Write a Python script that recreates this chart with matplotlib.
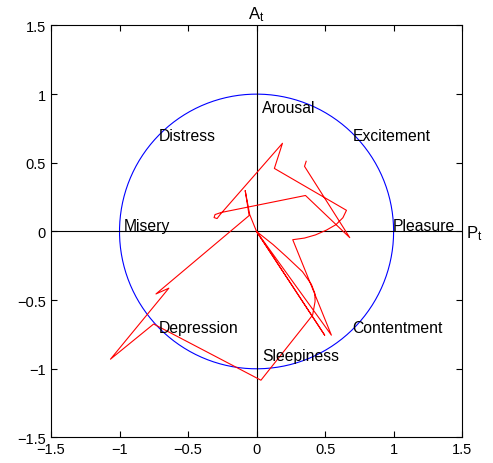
import numpy as np
import matplotlib
matplotlib.use("Agg")
import matplotlib.pyplot as plt

plt.rcParams['font.family'] = ['Liberation Sans', 'DejaVu Sans']
plt.rcParams['mathtext.default'] = 'regular'

# emotion trajectory in the pleasure/arousal plane
traj_x = [0.362, 0.350, 0.680, 0.357, -0.259, -0.303, -0.310, -0.288, -0.266,
          0.189, 0.130, 0.656, 0.630, 0.580, 0.510, 0.430, 0.350, 0.264,
          0.546, 0.0, 0.497, 0.0, 0.120, 0.220, 0.335, 0.400, 0.425, 0.427,
          0.409, 0.032, -0.751, -1.066, -0.640, -0.734, -0.054, -0.083,
          -0.050, 0.0]
traj_y = [0.511, 0.474, -0.045, 0.262, 0.138, 0.123, 0.101, 0.094, 0.123,
          0.642, 0.459, 0.154, 0.100, 0.050, 0.010, -0.025, -0.048, -0.060,
          -0.755, 0.0, -0.755, 0.0, -0.095, -0.185, -0.293, -0.385, -0.450,
          -0.510, -0.609, -1.083, -0.674, -0.930, -0.413, -0.455, 0.116,
          0.298, 0.123, 0.0]

labels = ["Arousal", "Distress", "Excitement", "Misery", "Pleasure",
          "Depression", "Contentment", "Sleepiness"]
label_x = [0.04, -0.71, 0.70, -0.97, 0.995, -0.71, 0.70, 0.04]
label_y = [0.90, 0.70, 0.70, 0.04, 0.04, -0.70, -0.70, -0.90]

ticks = [-1.5, -1, -0.5, 0, 0.5, 1, 1.5]
tick_labels = ["\u22121.5", "\u22121", "\u22120.5", "0", "0.5", "1", "1.5"]

fig = plt.figure(figsize=(4.93, 4.64), dpi=100)
ax = fig.add_axes([0.1034, 0.055, 0.834, 0.888])

t = np.linspace(0, 2 * np.pi, 400)
ax.plot(np.cos(t), np.sin(t), color='blue', lw=0.8)
ax.plot([-1.5, 1.5], [0, 0], color='black', lw=0.8)
ax.plot([0, 0], [-1.5, 1.5], color='black', lw=0.8)
ax.plot(traj_x, traj_y, color='red', lw=0.8)

for s, x, y in zip(labels, label_x, label_y):
    ax.text(x, y, s, fontsize=11.3, ha='left', va='center')

ax.text(0, 1.515, 'A$_{t}$', fontsize=12, ha='center', va='bottom')
ax.text(1.53, -0.01, 'P$_{t}$', fontsize=12, ha='left', va='center')

ax.set_xlim(-1.5, 1.5)
ax.set_ylim(-1.5, 1.5)
ax.set_xticks(ticks)
ax.set_xticklabels(tick_labels)
ax.set_yticks(ticks)
ax.set_yticklabels(tick_labels)
ax.tick_params(direction='in', top=True, right=True, labelsize=10.5, length=4)

fig.savefig("out.png", dpi=100)
